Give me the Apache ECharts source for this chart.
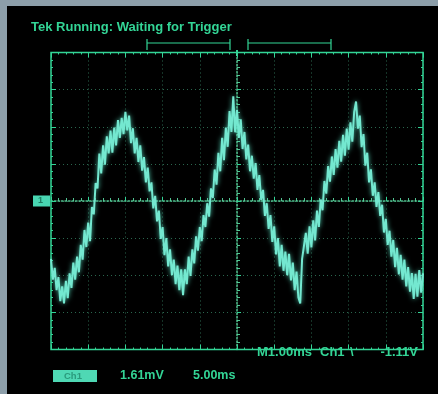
<!DOCTYPE html>
<html>
<head>
<meta charset="utf-8">
<script src="https://cdn.jsdelivr.net/npm/echarts@6/dist/echarts.min.js"></script>
<style>
  html, body { margin: 0; padding: 0; background: #8d9faa; }
  #scope { width: 438px; height: 394px; }
</style>
</head>
<body>
<div id="scope"></div>
<script>
// Acquisition settings
const sampleStepMs = 0.25;      // time between samples
const timeStartMs = -25;        // record start, relative to trigger
const msPerDiv = 5;             // horizontal scale
const divPerScreenY = 4;        // divisions above/below centre

// Channel 1 record, in vertical divisions
const ch1Div = [
  -1.56, -2.12, -1.80, -2.40, -2.05, -2.70, -2.30, -2.76, -2.15, -2.62,
  -1.95, -2.34, -1.66, -2.12, -1.50, -1.92, -1.18, -1.58, -0.78, -1.24,
  -0.58, -1.08, -0.16, -0.36, 0.48, 0.34, 1.28, 0.74, 1.50, 0.98,
  1.74, 1.28, 1.90, 1.30, 1.98, 1.50, 2.18, 1.70, 2.24, 1.80,
  2.40, 1.90, 2.30, 1.56, 1.96, 1.28, 1.70, 1.05, 1.50, 0.82,
  1.18, 0.50, 0.90, 0.26, 0.50, -0.20, 0.14, -0.55, -0.26, -1.02,
  -0.70, -1.46, -1.00, -1.76, -1.30, -2.00, -1.58, -2.24, -1.74, -2.40,
  -1.84, -2.54, -1.84, -2.24, -1.50, -2.02, -1.30, -1.68, -0.95, -1.34,
  -0.70, -1.08, -0.38, -0.70, -0.06, -0.42, 0.34, 0.08, 0.85, 0.44,
  1.30, 0.80, 1.70, 1.10, 1.98, 1.46, 2.42, 1.86, 2.82, 1.85,
  2.45, 1.70, 2.20, 1.40, 1.86, 1.12, 1.52, 0.80, 1.22, 0.60,
  1.02, 0.30, 0.70, 0.03, 0.30, -0.40, -0.06, -0.75, -0.38, -1.10,
  -0.68, -1.44, -1.00, -1.76, -1.18, -1.88, -1.36, -2.00, -1.42, -2.14,
  -1.66, -2.40, -1.90, -2.60, -2.76, -1.56, -1.54, -0.86, -1.42, -0.68,
  -1.25, -0.52, -1.06, -0.26, -0.70, 0.04, -0.25, 0.54, 0.20, 0.94,
  0.52, 1.20, 0.70, 1.40, 0.90, 1.62, 1.06, 1.78, 1.22, 1.95,
  1.38, 2.12, 1.60, 2.40, 2.68, 1.95, 2.30, 1.45, 1.80, 0.95,
  1.30, 0.50, 0.85, 0.14, 0.50, -0.16, 0.24, -0.40, -0.10, -0.85,
  -0.48, -1.18, -0.80, -1.50, -1.05, -1.78, -1.26, -1.98, -1.45, -2.12,
  -1.58, -2.30, -1.78, -2.44, -1.94, -2.64, -1.96, -2.58, -1.86, -2.47,
  -1.95
];

// Readout texts
const statusText = 'Tek Running: Waiting for Trigger';
const triggerReadout = ['M1.00ms', 'Ch1', '\\', '-1.11V'];
const channelTag = 'Ch1';
const scaleReadout = ['1.61mV', '5.00ms'];
const groundTag = '1';

const points = ch1Div.map((v, i) => [timeStartMs + i * sampleStepMs, v]);

const green = '#33d596';
const dim = 'rgba(70,170,130,0.6)';
const centre = 'rgba(90,215,160,0.9)';
const trace = '#74e8d0';
const font = (size) => 'bold ' + size + 'px "Liberation Sans", Arial, sans-serif';

const G = { left: 51, top: 52.5, width: 372, height: 297 };

const chart = echarts.init(document.getElementById('scope'), null, { renderer: 'canvas' });

function borderAxis(pos, withSplit, isX) {
  return {
    type: 'value',
    position: pos,
    min: isX ? timeStartMs : -divPerScreenY,
    max: isX ? -timeStartMs : divPerScreenY,
    interval: isX ? msPerDiv : 1,
    axisLine: { show: false, onZero: false },
    axisLabel: { show: false },
    axisTick: { show: true, inside: true, length: 5, lineStyle: { color: green, width: 1 } },
    minorTick: { show: true, splitNumber: 5, length: 2, lineStyle: { color: green, width: 1 } },
    splitLine: { show: withSplit, lineStyle: { color: dim, width: 1, type: [1, 3] } }
  };
}
function centreAxis(pos, isX) {
  return {
    type: 'value',
    position: pos,
    min: isX ? timeStartMs : -divPerScreenY,
    max: isX ? -timeStartMs : divPerScreenY,
    interval: isX ? msPerDiv : 1,
    axisLine: { show: true, onZero: true, onZeroAxisIndex: 0, lineStyle: { color: centre, width: 1.5, type: [1.5, 2] } },
    axisLabel: { show: false },
    axisTick: { show: true, inside: true, length: 4, lineStyle: { color: green, width: 1 } },
    minorTick: { show: true, splitNumber: 5, length: 3, lineStyle: { color: centre, width: 1 } },
    splitLine: { show: false }
  };
}

chart.setOption({
  animation: false,
  backgroundColor: '#8d9faa',
  grid: {
    left: G.left, top: G.top, width: G.width, height: G.height,
    show: true, borderColor: green, borderWidth: 1.5, backgroundColor: 'transparent', z: 1
  },
  xAxis: [borderAxis('bottom', true, true), borderAxis('top', false, true), centreAxis('bottom', true)],
  yAxis: [borderAxis('left', true, false), borderAxis('right', false, false), centreAxis('left', false)],
  graphic: [
    { type: 'rect', z: -10, silent: true, shape: { x: 7, y: 6, width: 431, height: 388 }, style: { fill: '#000' } },
    { type: 'text', left: 31, top: 21, style: { text: statusText, fill: green, font: font(13) } },
    // trigger position bracket
    { type: 'polyline', shape: { points: [[147, 43], [230, 43]] }, style: { stroke: green, lineWidth: 1.2 } },
    { type: 'polyline', shape: { points: [[248, 43], [331, 43]] }, style: { stroke: green, lineWidth: 1.2 } },
    { type: 'line', shape: { x1: 147, y1: 39, x2: 147, y2: 50 }, style: { stroke: green, lineWidth: 1.2 } },
    { type: 'line', shape: { x1: 230, y1: 39, x2: 230, y2: 50 }, style: { stroke: green, lineWidth: 1.2 } },
    { type: 'line', shape: { x1: 248, y1: 39, x2: 248, y2: 50 }, style: { stroke: green, lineWidth: 1.2 } },
    { type: 'line', shape: { x1: 331, y1: 39, x2: 331, y2: 50 }, style: { stroke: green, lineWidth: 1.2 } },
    { type: 'line', shape: { x1: 237, y1: 50, x2: 237, y2: 56 }, style: { stroke: green, lineWidth: 2 } },
    // ground level marker
    { type: 'rect', shape: { x: 33, y: 195.5, width: 17, height: 11 }, style: { fill: '#49d6b2' } },
    { type: 'text', left: 38, top: 196, style: { text: groundTag, fill: '#1d7a60', font: 'bold 9px sans-serif' } },
    // trigger readout
    { type: 'text', left: 257, top: 346, style: { text: triggerReadout[0], fill: green, font: font(13) } },
    { type: 'text', left: 320, top: 346, style: { text: triggerReadout[1], fill: green, font: font(13) } },
    { type: 'text', left: 350, top: 346, style: { text: triggerReadout[2], fill: green, font: font(13) } },
    { type: 'text', right: 20, top: 346, style: { text: triggerReadout[3], fill: green, font: font(13), letterSpacing: 1 } },
    // scale readout
    { type: 'rect', shape: { x: 53, y: 370, width: 44, height: 12 }, style: { fill: '#4fd8b4' } },
    { type: 'text', left: 64, top: 371, style: { text: channelTag, fill: '#2a9a7c', font: font(9.5) } },
    { type: 'text', left: 120, top: 369, style: { text: scaleReadout[0], fill: green, font: font(12.5) } },
    { type: 'text', left: 193, top: 369, style: { text: scaleReadout[1], fill: green, font: font(12.5) } }
  ],
  series: [{
    type: 'line',
    xAxisIndex: 0,
    yAxisIndex: 0,
    data: points,
    showSymbol: false,
    z: 10,
    lineStyle: { color: trace, width: 2, shadowBlur: 5, shadowColor: 'rgba(90,230,200,0.8)' }
  }]
});
</script>
</body>
</html>
